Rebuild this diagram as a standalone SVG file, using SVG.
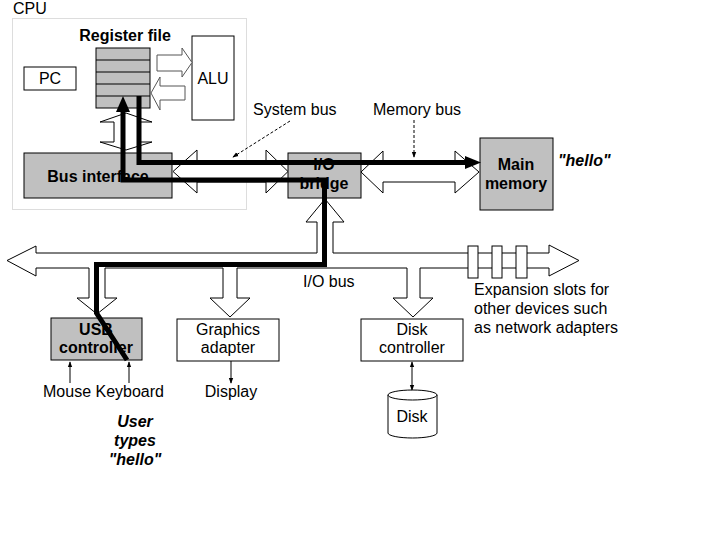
<svg xmlns="http://www.w3.org/2000/svg" width="720" height="540" viewBox="0 0 720 540">
<defs>
<style>
text{font-family:"Liberation Sans",Arial,Helvetica,sans-serif;font-size:16px;fill:#000}
.b{font-weight:bold}
.bi{font-weight:bold;font-style:italic}
.m{text-anchor:middle}
.box{fill:#fff;stroke:#000;stroke-width:1}
.gray{fill:#c0c0c0;stroke:#000;stroke-width:1}
.bus{fill:#fff;stroke:#000;stroke-width:1;stroke-linejoin:miter}
.gbus{fill:#fff;stroke:#555;stroke-width:1}
.thick{fill:none;stroke:#000;stroke-width:5;stroke-linejoin:miter}
.thin{fill:none;stroke:#000;stroke-width:1}
.dash{fill:none;stroke:#000;stroke-width:1;stroke-dasharray:3,2}
</style>
<marker id="ah" viewBox="0 0 8 8" refX="7" refY="4" markerWidth="6" markerHeight="6" orient="auto-start-reverse" markerUnits="userSpaceOnUse">
<path d="M0,1 L8,4 L0,7 z" fill="#000"/>
</marker>
</defs>
<rect width="720" height="540" fill="#fff"/>

<g id="cpu">
<rect x="12.5" y="18.5" width="234" height="191" fill="none" stroke="#bbb" stroke-width="1" stroke-dasharray="1,1"/>
<text x="13" y="14">CPU</text>
</g>

<g id="register-file">
<text class="b m" x="125" y="41">Register file</text>
<rect class="gray" x="96" y="48" width="54" height="60"/>
<path class="thin" d="M96,60H150M96,72H150M96,84H150M96,96H150"/>
</g>

<g id="pc">
<rect class="box" x="24" y="67" width="52" height="23"/>
<text class="m" x="50" y="84">PC</text>
</g>

<g id="alu">
<rect class="box" x="192" y="36" width="42" height="84"/>
<text class="m" x="213" y="84">ALU</text>
</g>

<g id="bus-interface">
<rect class="gray" x="24" y="153" width="148" height="45"/>
<text class="b m" x="98" y="182">Bus interface</text>
</g>

<g id="io-bridge">
<rect class="gray" x="288" y="153" width="73" height="45"/>
<text class="b m" x="324" y="170">I/O</text>
<text class="b m" x="324" y="189">bridge</text>
</g>

<g id="main-memory">
<rect class="gray" x="480" y="138" width="73" height="72"/>
<text class="b m" x="516" y="170">Main</text>
<text class="b m" x="516" y="189">memory</text>
<text class="bi" x="558" y="166">"hello"</text>
</g>

<g id="usb-controller">
<rect class="gray" x="51" y="318" width="91" height="42"/>
<text class="b m" x="96" y="335">USB</text>
<text class="b m" x="96" y="353">controller</text>
</g>

<g id="graphics-adapter">
<rect class="box" x="177" y="319" width="102" height="42"/>
<text class="m" x="228" y="335">Graphics</text>
<text class="m" x="228" y="353">adapter</text>
</g>

<g id="disk-controller">
<rect class="box" x="361" y="319" width="102" height="42"/>
<text class="m" x="412" y="335">Disk</text>
<text class="m" x="412" y="353">controller</text>
</g>

<g id="disk">
<path class="box" d="M388,395 V433 A24.5,5 0 0 0 437,433 V395"/>
<ellipse class="box" cx="412.5" cy="395" rx="24.5" ry="5"/>
<text class="m" x="412" y="422">Disk</text>
</g>

<g id="labels">
<text x="253" y="115">System bus</text>
<text x="373" y="115">Memory bus</text>
<text x="303" y="287">I/O bus</text>
<text x="474" y="295">Expansion slots for</text>
<text x="474" y="314">other devices such</text>
<text x="474" y="333">as network adapters</text>
<text x="43" y="397">Mouse Keyboard</text>
<text class="m" x="231" y="397">Display</text>
<text class="bi m" x="135" y="427">User</text>
<text class="bi m" x="135" y="446">types</text>
<text class="bi m" x="135" y="465">"hello"</text>
</g>

<g id="connectors">
<!-- register file <-> ALU -->
<path class="gbus" d="M157,55 H182 V48 L192,62.5 L182,77 V71 H157 Z"/>
<path class="gbus" d="M185,86 H160 V77 L151,93 L160,110 V100 H185 Z"/>
<!-- register file <-> bus interface -->
<path class="bus" d="M126,113 L152,122 H138 V142 H152 L126,150 L100,142 H114 V122 H100 Z"/>
<!-- system bus -->
<path class="bus" d="M173,171.5 L197,150 V161 H266 V150 L288,171.5 L266,193 V182 H197 V193 Z"/>
<!-- memory bus -->
<path class="bus" d="M361,172 L383,151 V162 H455 V151 L479,172 L455,193 V182 H383 V193 Z"/>
<!-- I/O bus -->
<path class="bus" d="M7,260.5 L36,246 V253 H317 V222 H306 L325,199 L344,222 H333 V253 H549 V245 L579,260.5 L549,276 V268 H420 V298 H433 L413,317 L393,298 H407 V268 H237 V298 H250 L230,317 L210,298 H223 V268 H105 V298 H117 L97,314 L77,298 H89 V268 H36 V276 Z"/>
<!-- expansion slots -->
<rect class="box" x="468" y="246" width="10" height="32"/>
<rect class="box" x="492" y="246" width="10" height="32"/>
<rect class="box" x="516" y="246" width="11" height="32"/>
<!-- dashed pointers -->
<path class="dash" d="M290,121 L233,157" marker-end="url(#ah)"/>
<path class="dash" d="M414,120 V157" marker-end="url(#ah)"/>
<!-- small arrows -->
<path class="thin" d="M70,383 V362" marker-end="url(#ah)"/>
<path class="thin" d="M129,383 V362" marker-end="url(#ah)"/>
<path class="thin" d="M231,361 V383" marker-end="url(#ah)"/>
<path class="thin" d="M412,362 V390" marker-start="url(#ah)" marker-end="url(#ah)"/>
<!-- data paths -->
<path class="thick" d="M139,96 V162.5 H466"/>
<polygon points="465,156 481,162.5 465,169" fill="#000"/>
<path class="thick" d="M127,360 L96.5,313 V264.5 H324.5 V180 H123 V110"/>
<polygon points="116,112 123,96 130,112" fill="#000"/>
</g>
</svg>
